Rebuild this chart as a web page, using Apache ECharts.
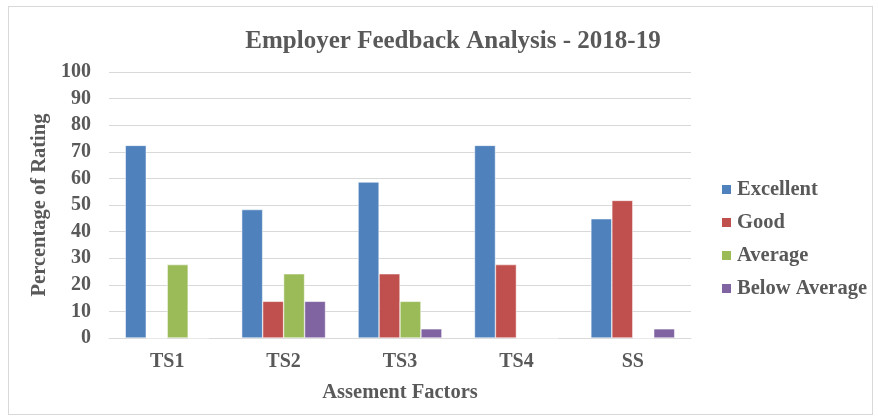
<!DOCTYPE html>
<html>
<head>
<meta charset="utf-8">
<script src="https://cdn.jsdelivr.net/npm/echarts@6/dist/echarts.min.js"></script>
<style>
  html, body { margin: 0; padding: 0; background: #fff; }
  #frame { position: absolute; left: 8px; top: 6px; width: 863px; height: 407px; border: 1px solid #d9d9d9; }
  #chart { position: absolute; left: 0; top: 0; width: 878px; height: 418px; }
</style>
</head>
<body>
<div id="frame"></div>
<div id="chart"></div>
<script>
// assessment factors and share of each rating (%)
var categories = ['TS1', 'TS2', 'TS3', 'TS4', 'SS']
var excellent = [72.41, 48.28, 58.62, 72.41, 44.83]
var good = [0, 13.79, 24.14, 27.59, 51.72]
var average = [27.59, 24.14, 13.79, 0, 0]
var belowAverage = [0, 13.79, 3.45, 0, 3.45]

var font = 'Liberation Serif'
var textColor = '#595959'

function barSeries(name, data, color) {
  return {
    name: name,
    type: 'bar',
    data: data,
    barGap: '0%',
    barCategoryGap: '28%',
    itemStyle: { color: color, borderColor: '#fff', borderWidth: 0.5 },
    animation: false
  }
}

var chart = echarts.init(document.getElementById('chart'))
chart.setOption({
  title: {
    text: 'Employer Feedback Analysis - 2018-19',
    left: 448,
    textAlign: 'center',
    top: 24,
    textStyle: { fontFamily: font, fontSize: 25, fontWeight: 'bold', color: textColor }
  },
  grid: { left: 109, right: 187, top: 72, bottom: 80 },
  legend: {
    orient: 'vertical',
    left: 715,
    top: 174,
    itemWidth: 11,
    itemHeight: 11,
    itemGap: 12,
    icon: 'rect',
    textStyle: { fontFamily: font, fontSize: 20.5, fontWeight: 'bold', color: textColor },
    data: ['Excellent', 'Good', 'Average', 'Below Average']
  },
  xAxis: {
    type: 'category',
    data: categories,
    name: 'Assement Factors',
    nameLocation: 'middle',
    nameGap: 44,
    nameTextStyle: { fontFamily: font, fontSize: 20.5, fontWeight: 'bold', color: textColor },
    axisLine: { lineStyle: { color: '#d9d9d9', width: 1 } },
    axisTick: { show: false },
    axisLabel: { fontFamily: font, fontSize: 20, fontWeight: 'bold', color: textColor, margin: 14 }
  },
  yAxis: {
    type: 'value',
    min: 0,
    max: 100,
    interval: 10,
    name: 'Percentage of Rating',
    nameLocation: 'middle',
    nameGap: 51,
    nameTextStyle: { fontFamily: font, fontSize: 20.5, fontWeight: 'bold', color: textColor },
    axisLine: { show: false },
    axisTick: { show: false },
    axisLabel: { fontFamily: font, fontSize: 20, fontWeight: 'bold', color: textColor, margin: 18 },
    splitLine: { lineStyle: { color: '#d9d9d9', width: 1 } }
  },
  series: [
    barSeries('Excellent', excellent, '#4f81bd'),
    barSeries('Good', good, '#c0504d'),
    barSeries('Average', average, '#9bbb59'),
    barSeries('Below Average', belowAverage, '#8064a2')
  ]
})
</script>
</body>
</html>
